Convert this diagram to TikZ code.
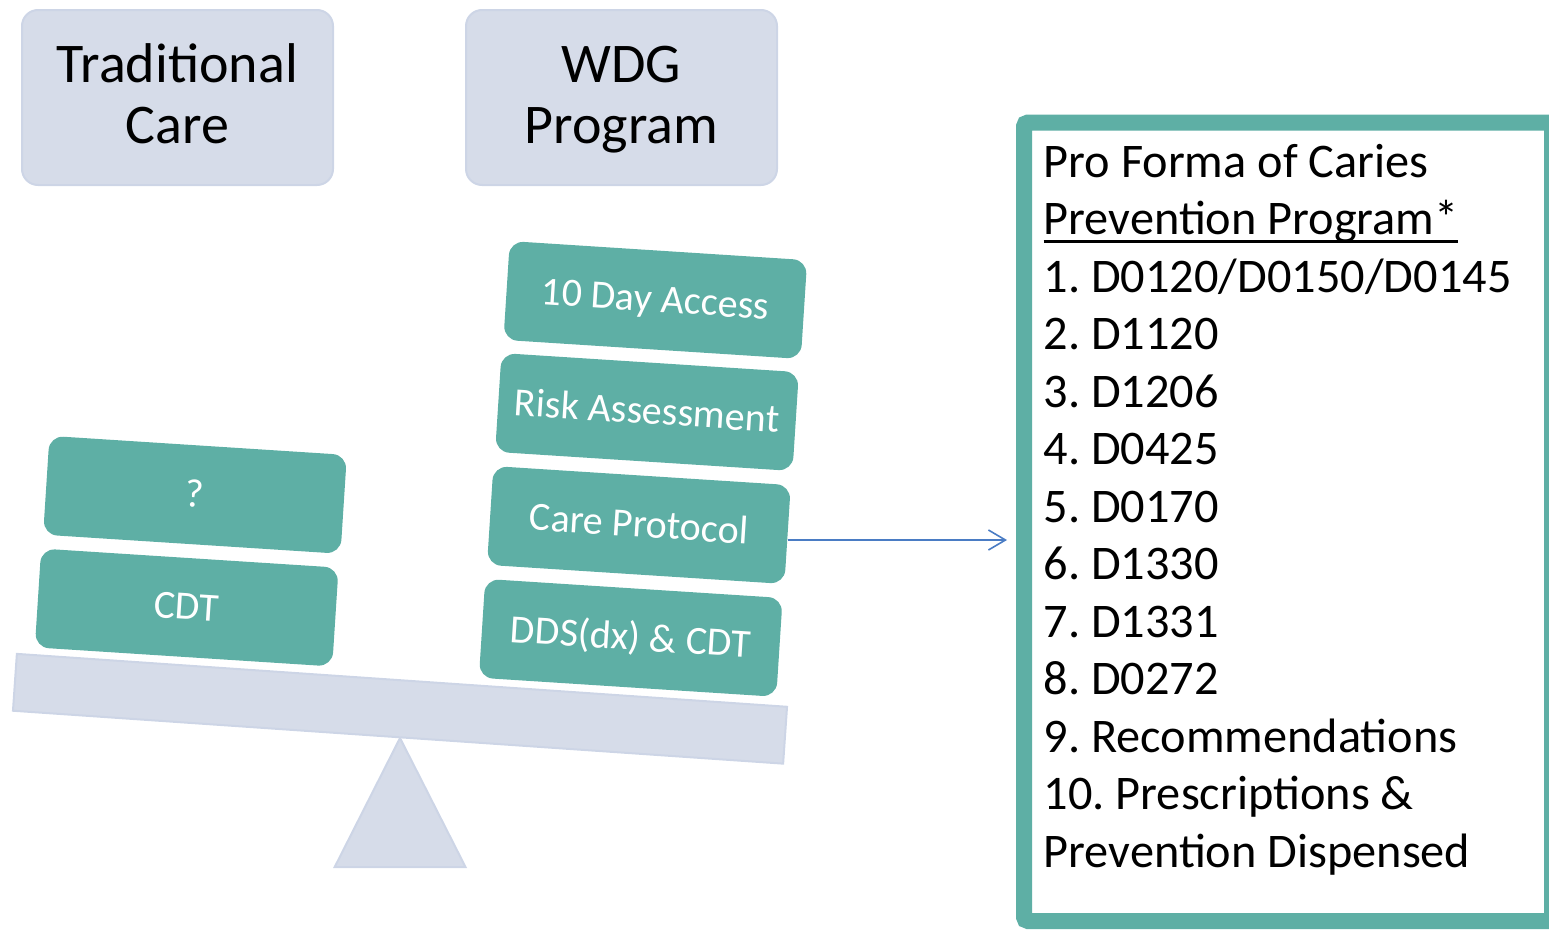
\documentclass[tikz,border=0pt]{standalone}
\usepackage{fontspec}
\setmainfont{Carlito}
\usetikzlibrary{arrows.meta}
\frenchspacing

\definecolor{boxteal}{HTML}{5EAFA5}
\definecolor{lav}{HTML}{D6DCE9}
\definecolor{lavedge}{HTML}{CDD5E6}
\definecolor{arrowblue}{HTML}{4A7CC4}

% underline drawn as a rule just below the baseline
\newcommand\ulinetext[1]{\setbox0=\hbox{#1}\rlap{\rule[-8pt]{\wd0}{3pt}}\box0}

\begin{document}
\begin{tikzpicture}[x=1pt,y=-1pt,
  headbox/.style={draw=lavedge, line width=2pt, fill=lav, rounded corners=16pt,
    minimum width=311pt, minimum height=175pt, inner sep=0pt},
  headtext/.style={font=\fontsize{56}{61}\selectfont, anchor=base, inner sep=0pt},
  block/.style={fill=boxteal, rounded corners=14pt, minimum width=298pt,
    minimum height=99pt, rotate=-3.68, text=white, inner sep=0pt,
    font=\fontsize{40}{48}\selectfont, text height=32pt, text depth=8pt},
  listline/.style={font=\fontsize{48.3}{57.5}\selectfont, anchor=base west, inner sep=0pt},
  arr/.style={draw=arrowblue, line width=1.6pt,
    -{Straight Barb[length=17pt,width=20pt,line width=1.6pt]}}
]
\useasboundingbox (0,0) rectangle (1549,929);
\clip (0,0) rectangle (1549,929);

% column headings
\node[headbox] (trad) at (177.5,97.5) {};
\node[headtext] (tradA) at (177.5,82) {Traditional};
\node[headtext] (tradB) at (177.5,143) {Care};
\node[headbox] (wdg) at (621.5,97.5) {};
\node[headtext] (wdgA) at (621.5,82) {WDG};
\node[headtext] (wdgB) at (621.5,143) {Program};

% the balance: fulcrum and tilted beam
\draw[fill=lav, draw=lavedge, line width=2pt]
  (400,738) -- (465.5,867) -- (334.7,867) -- cycle;
\node[fill=lav, draw=lavedge, line width=2pt, minimum width=772pt,
  minimum height=57pt, rotate=-3.93, inner sep=0pt] (beam) at (400,708.75) {};

% weights on the left pan
\node[block] (q)   at (195,494.8)   {?};
\node[block] (cdt) at (186.7,607.5) {CDT};

% weights on the right pan
\node[block] (acc)  at (655.3,300)    {10 Day Access};
\node[block] (risk) at (647,412)      {Risk Assessment};
\node[block] (cp)   at (638.9,525)    {Care Protocol};
\node[block] (dds)  at (630.75,637.85) {DDS(dx) \& CDT};

% pro forma panel
\node[draw=boxteal, line width=16pt, fill=white, rounded corners=4pt,
  minimum width=528pt, minimum height=798.5pt, inner sep=0pt] (panel) at (1288,521.75) {};
\foreach \t [count=\i] in {
  Pro Forma of Caries,
  {\ulinetext{Prevention Program*}},
  1. D0120/D0150/D0145,
  2. D1120,
  3. D1206,
  4. D0425,
  5. D0170,
  6. D1330,
  7. D1331,
  8. D0272,
  9. Recommendations,
  10. Prescriptions \&,
  Prevention Dispensed}
  \node[listline] (l\i) at (1043.5,{177+57.5*(\i-1)}) {\t};

% connector from the care protocol to the panel
\coordinate (tip) at (1007,540);
\draw[arr] (tip -| cp.east) -- (tip);
\end{tikzpicture}
\end{document}
